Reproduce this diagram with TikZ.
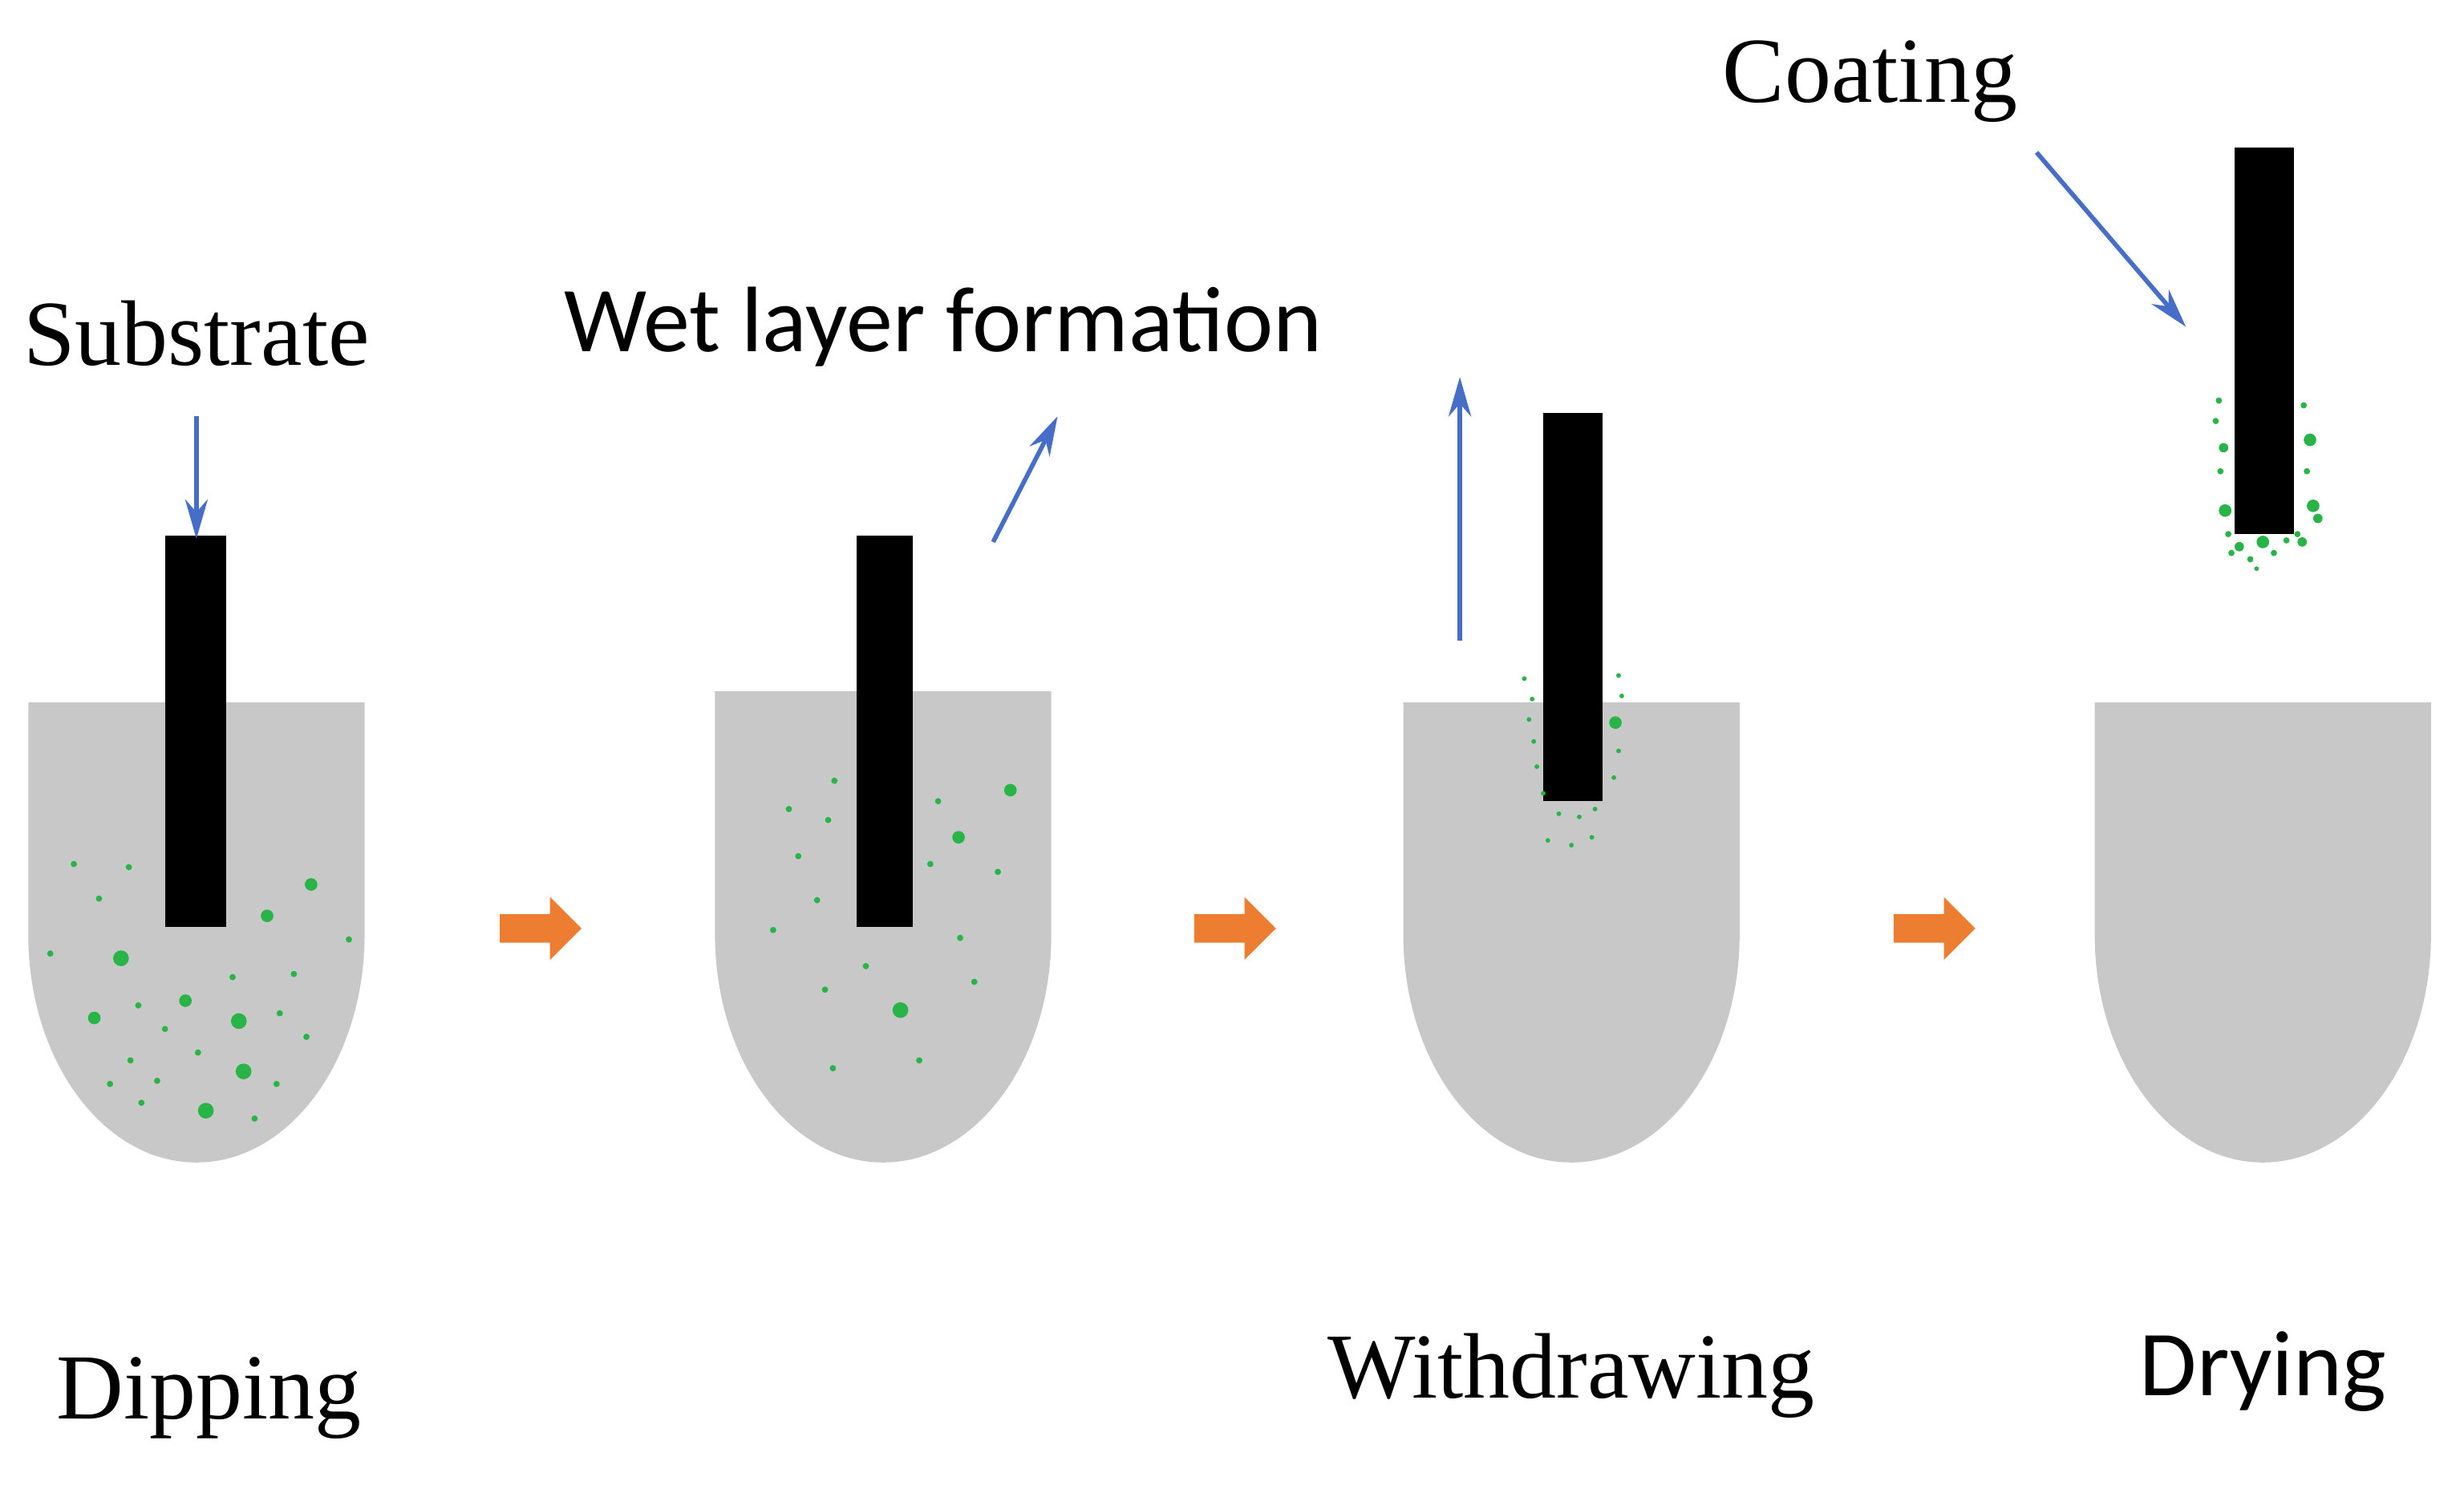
\documentclass[tikz,border=0pt]{standalone}
\usepackage{fontspec}
\setmainfont{Liberation Serif}
\newfontfamily\carlitofont{Carlito}
\usetikzlibrary{arrows.meta}
\definecolor{bk}{RGB}{200,200,200}
\definecolor{gr}{RGB}{40,180,70}
\definecolor{bl}{RGB}{70,110,200}
\definecolor{og}{RGB}{237,125,49}
\begin{document}
\begin{tikzpicture}[x=0.01959cm,y=-0.01959cm,
  beaker/.style={fill=bk,draw=none},
  sub/.style={fill=black,draw=none},
  bar/.style={bl,line width=1.6pt,-{Stealth[length=14pt,width=8pt]}},
  lab/.style={font=\fontsize{33}{38}\selectfont,inner sep=0pt},
  dot/.style={fill=gr,draw=none}]
\useasboundingbox (0,0) rectangle (1568,945);
\foreach \x/\t in {18/447,455/440,893/447,1333/447}{
  \fill[beaker] (\x,\t) -- (\x+214,\t) -- (\x+214,595) arc[start angle=0,end angle=180,x radius=107,y radius=145] -- cycle;}
\fill[sub] (105,341) rectangle (144,590);
\fill[sub] (545,341) rectangle (581,590);
\fill[sub] (982,263) rectangle (1020,510);
\fill[sub] (1422,94) rectangle (1460,340);
\foreach \x/\y/\r in {47/550/2,82/552/2,63/572/2,198/563/4,170/583/4,32/607/2,77/610/5,222/598/2,148/622/2,187/620/2,118/637/4,88/640/2,60/648/4,152/650/5,178/645/2,105/655/2,195/660/2,83/675/2,126/670/2,155/682/5,70/690/2,100/688/2,176/690/2,131/707/5,90/702/2,162/712/2}
  \fill[dot] (\x,\y) circle[radius=\r];
\foreach \x/\y/\r in {531/497/2,643/503/4,502/515/2,597/510/2,527/522/2,610/533/4,508/545/2,592/550/2,635/555/2,520/573/2,492/592/2,611/597/2,551/615/2,620/625/2,525/630/2,573/643/5,530/680/2,585/675/2}
  \fill[dot] (\x,\y) circle[radius=\r];
\foreach \x/\y/\r in {970/432/1.5,975/445/1.5,1030/430/1.5,1032/443/1.5,973/458/1.5,1028/460/4,976/472/1.5,1030/478/1.5,978/488/1.5,1027/495/1.5,982/505/1.5,992/518/1.5,1005/520/1.5,1015/515/1.5,985/535/1.5,1000/538/1.5,1013/533/1.5}
  \fill[dot] (\x,\y) circle[radius=\r];
\foreach \x/\y/\r in {1412/255/2,1466/258/2,1410/268/2,1470/280/4,1415/285/3,1413/300/2,1468/300/2,1416/325/4,1472/322/4,1475/330/3,1418/340/2,1465/345/3,1425/348/3,1440/345/4,1455/344/2,1432/356/2,1447/352/2,1420/352/2,1436/362/1.5,1462/340/2}
  \fill[dot] (\x,\y) circle[radius=\r];
\foreach \x in {318,760,1205}
  \fill[og] (\x,582) -- (\x+32,582) -- (\x+32,571) -- (\x+52,591) -- (\x+32,611) -- (\x+32,600) -- (\x,600) -- cycle;
\node[lab] (substrate) at (125,212) {Substrate};
\node[lab,font=\carlitofont\fontsize{33}{38}\selectfont] (wet) at (600,208) {Wet layer formation};
\node[lab] (coating) at (1190,52) {Coating};
\node[lab] (dip) at (133,890) {Dipping};
\node[lab] (with) at (1000,876) {Withdrawing};
\node[lab,font=\carlitofont\fontsize{33}{38}\selectfont] (dry) at (1440,873) {Drying};
\coordinate (s1) at (125,265); \coordinate (s2) at (125,343);
\coordinate (w1) at (632,345); \coordinate (w2) at (673,265);
\coordinate (u1) at (929,408); \coordinate (u2) at (929,240);
\coordinate (c1) at (1296,97); \coordinate (c2) at (1391,208);
\draw[bar] (s1) -- (s2);
\draw[bar] (w1) -- (w2);
\draw[bar] (u1) -- (u2);
\draw[bar] (c1) -- (c2);
\end{tikzpicture}
\end{document}
